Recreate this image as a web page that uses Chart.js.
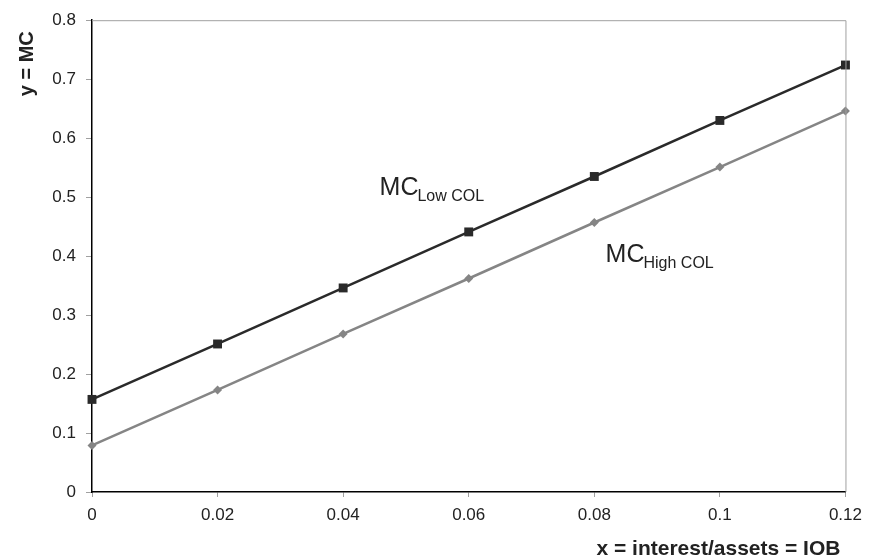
<!DOCTYPE html>
<html lang="en">
<head>
  <meta charset="UTF-8">
  <title>MC vs IOB</title>
  <style>
    html, body { margin: 0; padding: 0; background: #fff; }
    .chart-container { width: 870px; height: 560px; position: relative; }
  </style>
  <script src="https://cdn.jsdelivr.net/npm/chart.js"></script>
</head>
<body>
  <div class="chart-container">
    <canvas id="mcChart"></canvas>
  </div>

  <script>
    // values
    const xValues = [0, 0.02, 0.04, 0.06, 0.08, 0.1, 0.12];
    const lowCol  = [0.157, 0.251, 0.346, 0.441, 0.535, 0.630, 0.724];
    const highCol = [0.079, 0.173, 0.268, 0.362, 0.457, 0.551, 0.646];

    const xTitle = 'x = interest/assets = IOB';
    const yTitle = 'y = MC';

    const FONT = '"Liberation Sans", Arial, Helvetica, sans-serif';

    // curve labels, placed in data units
    const curveLabels = [
      { main: 'MC', sub: 'Low COL', x: 0.0458, y: 0.504 },
      { main: 'MC', sub: 'High COL', x: 0.0818, y: 0.390 }
    ];

    const extras = {
      id: 'extras',
      afterDraw(chart) {
        const { ctx, chartArea: a, scales } = chart;
        ctx.save();
        // plot frame top and right
        ctx.strokeStyle = '#a0a0a0';
        ctx.lineWidth = 1;
        ctx.beginPath();
        ctx.moveTo(a.left, a.top + 0.5);
        ctx.lineTo(a.right + 0.5, a.top + 0.5);
        ctx.lineTo(a.right + 0.5, a.bottom);
        ctx.stroke();

        ctx.fillStyle = '#222';
        ctx.textBaseline = 'alphabetic';
        ctx.textAlign = 'left';
        curveLabels.forEach(l => {
          const px = scales.x.getPixelForValue(l.x);
          const py = scales.y.getPixelForValue(l.y);
          ctx.font = '25px ' + FONT;
          ctx.fillText(l.main, px, py);
          const w = ctx.measureText(l.main).width;
          ctx.font = '16px ' + FONT;
          ctx.fillText(l.sub, px + w - 1, py + 6);
        });

        // axis titles
        ctx.font = 'bold 21px ' + FONT;
        ctx.textAlign = 'right';
        ctx.fillText(xTitle, a.right - 5, 555);

        ctx.font = 'bold 20px ' + FONT;
        ctx.translate(33, a.top + 11);
        ctx.rotate(-Math.PI / 2);
        ctx.textAlign = 'right';
        ctx.fillText(yTitle, 0, 0);
        ctx.restore();
      }
    };

    function fmt(v, d) { return Number(v.toFixed(d)).toString(); }

    new Chart(document.getElementById('mcChart'), {
      type: 'line',
      data: {
        datasets: [
          {
            label: 'MC Low COL',
            data: xValues.map((x, i) => ({ x: x, y: lowCol[i] })),
            borderColor: '#2a2a2a',
            backgroundColor: '#2a2a2a',
            borderWidth: 2.5,
            pointStyle: 'rect',
            pointRadius: 6.3,
            pointBorderWidth: 0,
            tension: 0,
            clip: false
          },
          {
            label: 'MC High COL',
            data: xValues.map((x, i) => ({ x: x, y: highCol[i] })),
            borderColor: '#858585',
            backgroundColor: '#858585',
            borderWidth: 2.5,
            pointStyle: 'rectRot',
            pointRadius: 4.5,
            pointBorderWidth: 0,
            tension: 0,
            clip: false
          }
        ]
      },
      options: {
        responsive: true,
        maintainAspectRatio: false,
        animation: false,
        layout: { padding: { top: 16, right: 21, left: 0, bottom: 0 } },
        plugins: { legend: { display: false }, tooltip: { enabled: false } },
        scales: {
          x: {
            type: 'linear',
            min: 0,
            max: 0.12,
            afterFit(scale) { scale.height = 68; },
            ticks: {
              stepSize: 0.02,
              color: '#222',
              font: { family: FONT, size: 17 },
              padding: 8,
              maxRotation: 0,
              callback: v => fmt(v, 2)
            },
            grid: { drawOnChartArea: false, drawTicks: true, tickLength: 5, color: '#a0a0a0' },
            border: { color: '#000', width: 1.5 }
          },
          y: {
            min: 0,
            max: 0.8,
            afterFit(scale) { scale.width = 92; },
            ticks: {
              stepSize: 0.1,
              color: '#222',
              font: { family: FONT, size: 17 },
              padding: 10,
              callback: v => fmt(v, 1)
            },
            grid: { drawOnChartArea: false, drawTicks: true, tickLength: 6, color: '#a0a0a0' },
            border: { color: '#000', width: 1.5 }
          }
        }
      },
      plugins: [extras]
    });
  </script>
</body>
</html>
